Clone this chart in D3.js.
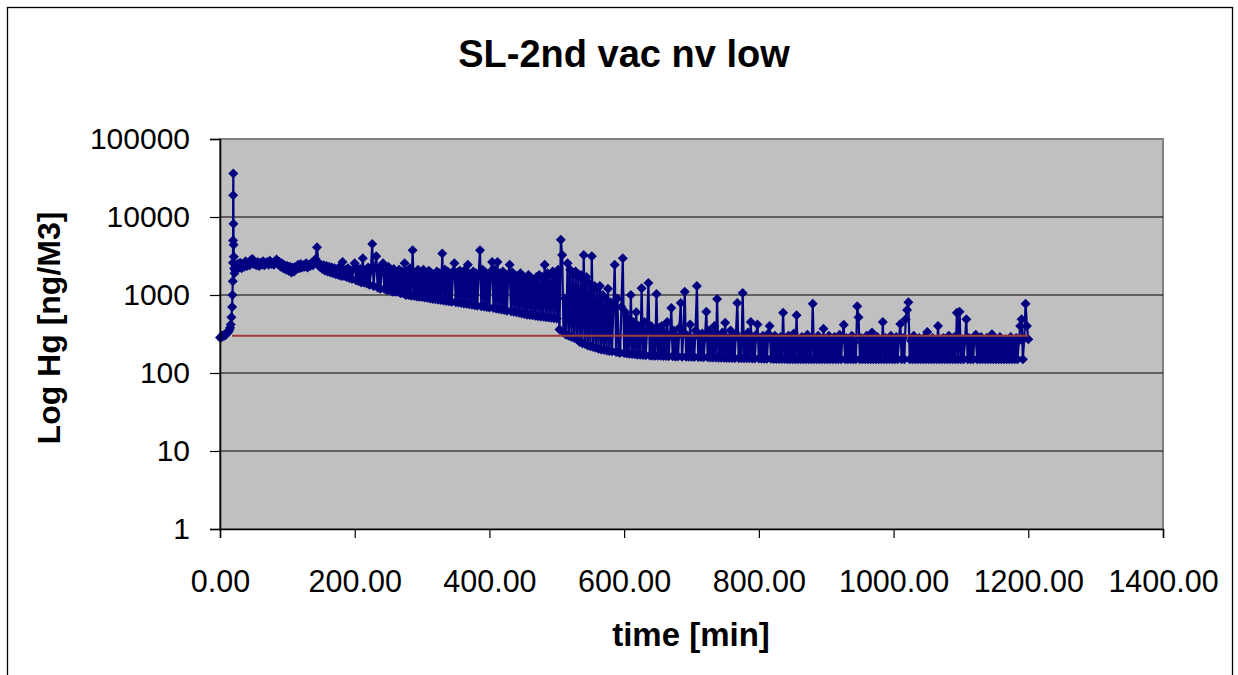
<!DOCTYPE html>
<html><head><meta charset="utf-8">
<script src="https://cdn.jsdelivr.net/npm/d3@7"></script>
<style>body{margin:0;background:#fff}svg{display:block}text{font-family:"Liberation Sans",Arial,Helvetica,sans-serif}</style>
</head><body><svg id="c" width="1238" height="675"></svg>
<script>
const chartTitle = "SL-2nd vac nv low";
const xTitle = "time [min]";
const yTitle = "Log Hg [ng/M3]";
const xTicks = [0, 200, 400, 600, 800, 1000, 1200, 1400];
const yTicks = [1, 10, 100, 1000, 10000, 100000];

// start-up phase, finely sampled (minutes, ng/m3)
const startTime = [0,1,2,3,4,5,6,7,8,9,10,11,12,13,14,15,16,17,18,18.5,19,19.2,19.4,19.6,19.8,20,20.2,20.5,21,21.5,22];
const startHg   = [285,280,290,300,295,305,300,310,305,315,320,330,335,345,360,380,420,520,700,1000,1500,2600,5000,19000,36000,8200,4400,3100,2200,1900,2100];

// main record: one reading every 2 minutes from t = 24 min (one row = 30 min)
const mainStartTime = 24, mainStepMin = 2;
const mainHg = [
2150,2500,2250,2600,2200,2450,2300,2700,2350,2550,2400,2800,2900,2500,2600,
2400,2650,2350,2600,2450,2700,2400,2550,2650,2450,2750,2500,2600,2450,2700,
2850,2500,2650,2300,2550,2200,2400,2100,2350,2050,2300,1950,2250,2000,2300,
2150,2450,2200,2500,2250,2400,2300,2550,2250,2450,2350,2600,2400,2700,2900,
4100,2600,2300,2450,2150,2400,2050,2350,2000,2300,1950,2250,1900,2200,1850,
2150,1800,2300,1750,2650,1750,2100,1700,2200,1650,2050,1600,2150,2550,1550,
2200,1500,2150,1450,2950,1450,2100,1400,2250,1350,2050,4500,1300,2300,3150,
1250,2200,1200,2000,2550,1200,2000,1150,2300,1150,1950,1100,2150,1100,1900,
1100,2100,1050,2000,1050,2550,1000,1950,1000,2200,980,3750,980,1900,960,
2100,950,1950,940,2100,930,1800,920,2050,900,1900,890,1850,880,2000,
870,1900,860,3400,850,2100,840,2000,830,1850,820,2000,2550,810,1950,
800,2050,790,1900,780,2100,770,2450,760,1800,750,2000,740,1900,730,
1850,3750,720,2100,710,1950,700,1800,690,2000,2650,680,2100,670,2650,
660,1900,650,2000,640,1750,630,1850,2450,620,1950,610,1800,600,1700,
590,1900,580,1700,570,1550,560,1800,555,1650,550,1550,540,1700,535,
1800,530,1700,525,2450,520,1900,515,1800,510,2000,505,1750,500,2100,
360,5100,3250,330,900,310,2550,300,2100,290,1800,280,2000,270,1700,
250,1800,240,3250,235,1700,225,1400,220,3150,215,1300,210,1200,205,
1300,200,1000,198,900,195,1200,192,800,190,700,2450,186,900,184,
182,700,2950,180,600,178,500,177,1000,175,450,174,600,172,400,
171,1220,170,450,169,350,1420,168,400,167,330,167,1030,166,380,
166,400,165,330,165,450,164,300,680,164,350,163,290,163,380,
790,162,330,1100,162,300,161,420,161,280,160,350,1300,160,300,
160,320,159,280,610,159,350,158,300,158,400,158,890,157,280,
157,330,157,440,156,280,156,350,156,300,155,320,790,155,270,
155,1060,154,300,154,330,154,450,153,280,153,310,420,153,270,
152,300,152,260,152,320,400,152,280,151,300,151,250,151,290,
151,590,151,280,150,300,150,260,150,320,150,550,150,270,150,
290,150,260,150,310,150,280,150,770,150,260,150,300,150,270,
150,370,150,260,150,300,150,250,150,290,150,260,150,310,150,
270,415,150,280,150,260,150,300,150,250,150,720,520,150,280,
150,260,150,300,150,270,150,330,150,250,150,290,150,260,150,
450,150,280,150,260,150,300,150,250,150,290,150,270,425,150,
280,150,490,640,810,150,260,150,300,150,250,150,280,150,260,
150,290,150,335,150,260,150,280,150,250,150,400,150,270,150,
280,150,260,150,300,150,250,150,290,150,590,150,610,150,270,
150,260,490,150,280,150,250,150,270,310,150,260,150,290,150,
260,150,280,150,250,150,315,150,270,150,250,150,290,150,260,
150,270,150,250,150,290,150,260,150,280,150,260,400,490,150,
280,770,400,270
];

// reference level line
const limitHg = 300;
const limitTime = [18, 1200];

const svg = d3.select("#c");
const plot = {left: 220, right: 1163, top: 139, bottom: 529};

const series = startTime.map((t, i) => ({t, v: startHg[i]}))
  .concat(mainHg.map((v, i) => ({t: mainStartTime + i * mainStepMin, v})));

const x = d3.scaleLinear().domain([0, 1400]).range([plot.left, plot.right]);
const y = d3.scaleLog().domain([1, 100000]).range([plot.bottom, plot.top]);

// outer frame
svg.append("rect").attr("x", 7.5).attr("y", 7.5).attr("width", 1225).attr("height", 700)
  .attr("fill", "#fff").attr("stroke", "#000").attr("stroke-width", 1.3);

// plot area
svg.append("rect").attr("x", plot.left).attr("y", plot.top)
  .attr("width", plot.right - plot.left).attr("height", plot.bottom - plot.top)
  .attr("fill", "#C0C0C0").attr("stroke", "#808080").attr("stroke-width", 2);

// gridlines
svg.append("g").selectAll("line").data(yTicks.filter(d => d > 1 && d < 100000)).join("line")
  .attr("x1", plot.left).attr("x2", plot.right)
  .attr("y1", d => y(d)).attr("y2", d => y(d))
  .attr("stroke", "#000").attr("stroke-width", 1.2);

// Hg series
const line = d3.line().x(d => x(d.t)).y(d => y(d.v));
svg.append("path").datum(series).attr("d", line)
  .attr("fill", "none").attr("stroke", "#000080").attr("stroke-width", 2.2).attr("stroke-linejoin", "round");
const dm = 5;
svg.append("g").selectAll("path").data(series).join("path")
  .attr("d", `M0,${-dm}L${dm},0L0,${dm}L${-dm},0Z`)
  .attr("transform", d => `translate(${x(d.t)},${y(d.v)})`)
  .attr("fill", "#000080");

// limit line
svg.append("line").attr("x1", x(limitTime[0])).attr("x2", x(limitTime[1]))
  .attr("y1", y(limitHg)).attr("y2", y(limitHg))
  .attr("stroke", "#A03C3C").attr("stroke-width", 2);

// axes
const yAxis = d3.axisLeft(y).tickValues(yTicks).tickFormat(d3.format("d")).tickSize(10).tickPadding(20);
const gy = svg.append("g").attr("transform", `translate(${plot.left},0)`).call(yAxis);
gy.select(".domain").attr("stroke", "#000").attr("stroke-width", 1.5);
gy.selectAll(".tick line").attr("stroke", "#000").attr("stroke-width", 1.2);
gy.selectAll(".tick text").attr("font-size", 30).attr("fill", "#000")
  .attr("font-family", '"Liberation Sans",Arial,sans-serif');

const xAxis = d3.axisBottom(x).tickValues(xTicks).tickFormat(d3.format(".2f")).tickSize(9).tickPadding(32);
const gx = svg.append("g").attr("transform", `translate(0,${plot.bottom})`).call(xAxis);
gx.select(".domain").attr("stroke", "#000").attr("stroke-width", 1.5);
gx.selectAll(".tick line").attr("stroke", "#000").attr("stroke-width", 1.2);
gx.selectAll(".tick text").attr("font-size", 30.5).attr("fill", "#000")
  .attr("font-family", '"Liberation Sans",Arial,sans-serif');

// titles
svg.append("text").attr("x", 624).attr("y", 67).attr("text-anchor", "middle")
  .attr("font-size", 38).attr("font-weight", "bold").text(chartTitle);
svg.append("text").attr("x", 691).attr("y", 646).attr("text-anchor", "middle")
  .attr("font-size", 33).attr("font-weight", "bold").text(xTitle);
svg.append("text").attr("transform", "translate(60,328) rotate(-90)").attr("text-anchor", "middle")
  .attr("font-size", 32).attr("font-weight", "bold").text(yTitle);
</script></body></html>
